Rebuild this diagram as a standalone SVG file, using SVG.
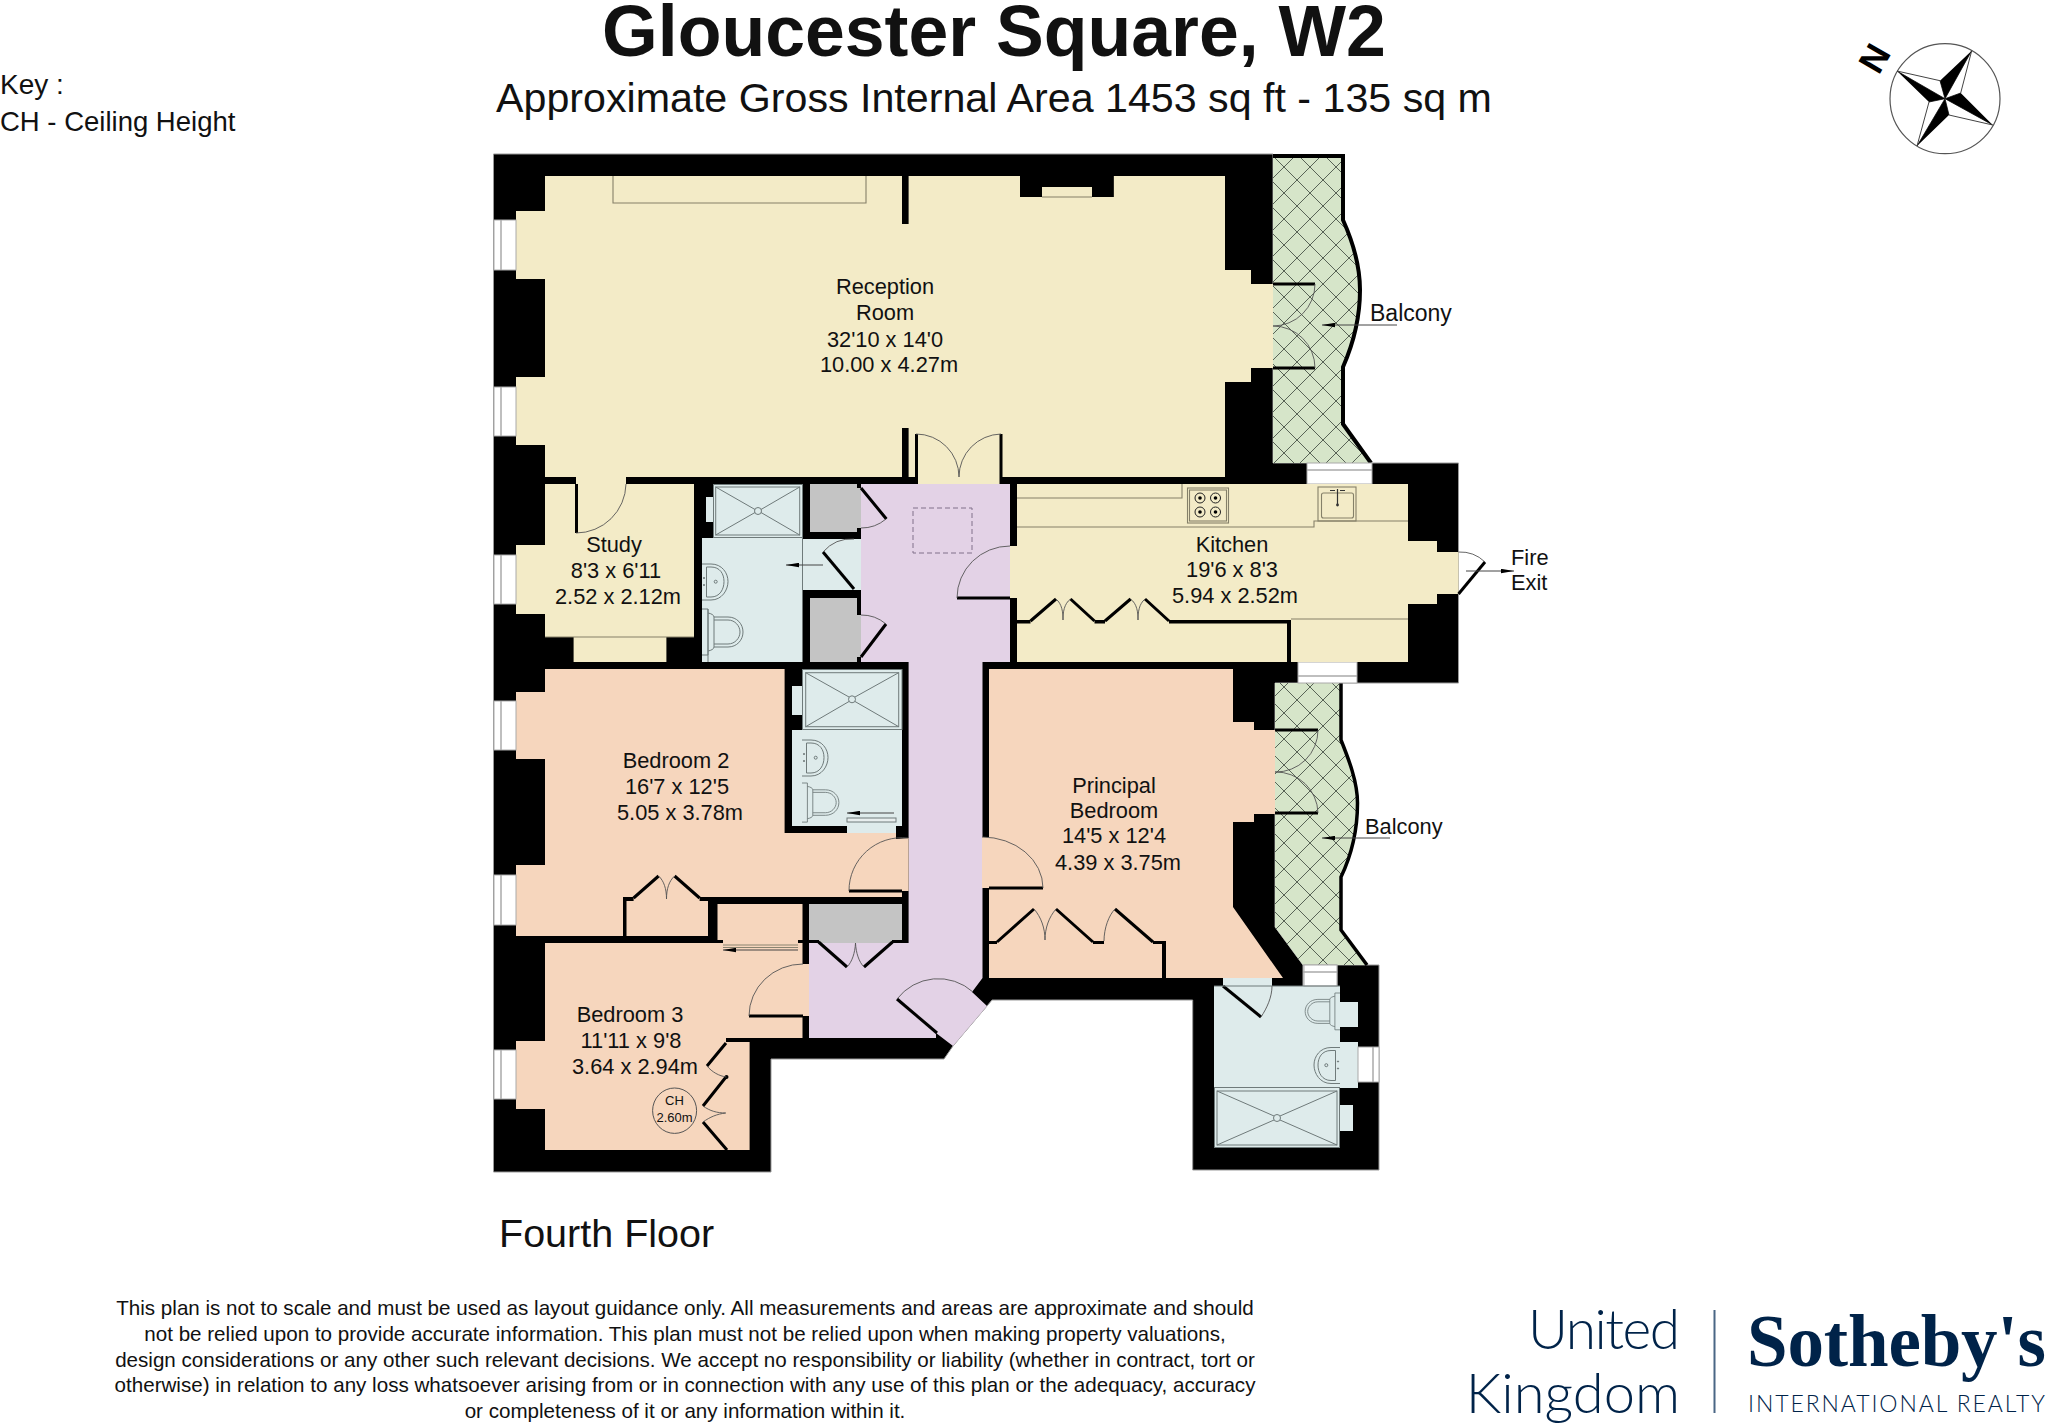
<svg xmlns="http://www.w3.org/2000/svg" width="2048" height="1425" viewBox="0 0 2048 1425">
<style>
text{font-family:"Liberation Sans",Arial,sans-serif;fill:#111}
.r{font-size:21.8px;text-anchor:middle}
.l{font-size:21.8px}
.d{font-size:20.6px;text-anchor:middle}
.cream{fill:#f3ebc7}
.peach{fill:#f6d6bd}
.hall{fill:#e3d2e6}
.bath{fill:#deebeb}
.grey{fill:#c4c4c4}
.bk{fill:#000}
.leaf{stroke:#000;stroke-width:3;fill:none}
.arc{stroke:#555;stroke-width:.9;fill:none}
.ln{stroke:#858069;stroke-width:1.1;fill:none}
.fx{stroke:#6f7a7a;stroke-width:1;fill:none}
.win{fill:#fff;stroke:#aaa;stroke-width:1}
.wl{stroke:#aaa;stroke-width:1.5;fill:none}
.lead{stroke:#444;stroke-width:1;fill:none}
</style>
<defs>
<pattern id="hatch" width="26" height="26" patternUnits="userSpaceOnUse" x="1297" y="180">
<rect width="26" height="26" fill="#d6e5c9"/>
<path d="M0,0L26,26M0,26L26,0" stroke="#4a554a" stroke-width=".9"/>
</pattern>
<marker id="ar" viewBox="0 0 13 5" refX="13" refY="2.5" markerWidth="13" markerHeight="5" markerUnits="userSpaceOnUse" orient="auto"><path d="M0,0.3L13,2.5L0,4.7Z" fill="#000"/></marker>
<g id="basin" class="fx">
<path d="M0,0H9C20,0 26,9 26,17.5C26,26 20,36 9,36H0"/>
<path d="M4.5,3H9C18,3 22,10 22,17.5C22,25 18,33 9,33H4.5Z"/>
<circle cx="13.7" cy="17.7" r="1.5"/>
<circle cx="2" cy="14" r=".6" fill="#555"/><circle cx="2" cy="21" r=".6" fill="#555"/>
</g>
<g id="wc" class="fx">
<path d="M0,0H6V46H0"/>
<path d="M6,4C9,4.5 12,6 12,8V38C12,40 9,41.5 6,42"/>
<path d="M12,8H26C35,8 41,15 41,23C41,31 35,38 26,38H12"/>
<path d="M12,11H26C33,11 38,17 38,23C38,29 33,35 26,35H12"/>
</g>
</defs>
<rect width="2048" height="1425" fill="#fff"/>

<g id="walls">
<path class="bk" stroke="#999" stroke-width="1" d="M493.5,154H1273V463H1458.5V683H1275V927L1303,965H1379V1170H1192.7V1000H992L987,1006L953,1046L944,1059H771V1172H493.5Z"/>
</g>

<g id="balcony-upper">
<path fill="url(#hatch)" d="M1273,156H1343V220C1352,240 1360,265 1360,290C1360,318 1354,342 1343,367V424L1370,463H1273Z"/>
<rect x="1273" y="154" width="72" height="4" class="bk"/>
<path fill="none" stroke="#000" stroke-width="4" d="M1343,154V220C1352,240 1360,265 1360,290C1360,318 1354,342 1343,367V424L1371,463"/>
<path class="leaf" d="M1273,284H1315M1273,368H1315"/>
<path class="arc" d="M1315,284A42,42 0 0 1 1273,326M1315,368A42,42 0 0 0 1273,326"/>
<rect class="win" x="1307" y="463" width="65" height="21"/><path class="wl" d="M1307,470H1372"/>
</g>

<g id="balcony-lower">
<path fill="url(#hatch)" d="M1275,683H1341V740C1349,760 1357.5,782 1357.5,803C1357.5,830 1351,856 1341,877V930L1366,965H1303L1275,927Z"/>
<path fill="none" stroke="#000" stroke-width="3.5" d="M1341,683V740C1349,760 1357.5,782 1357.5,803C1357.5,830 1351,856 1341,877V930L1367,965"/>
<path class="leaf" d="M1275,730H1318M1275,813H1318"/>
<path class="arc" d="M1318,730A42,42 0 0 1 1275,772M1318,813A42,42 0 0 0 1275,772"/>
<rect class="win" x="1303" y="965" width="34" height="21"/><path class="wl" d="M1303,972H1337"/>
<rect class="win" x="1298" y="662" width="59" height="21"/><path class="wl" d="M1298,676H1357"/>
</g>

<g id="reception">
<path class="cream" d="M545,176H1020V197H1113.6V176H1225V270H1251V284H1273V368H1251V382H1225V477H1001V484H916V477H626V484H576V477H545V445H516V377H545V279H516V211H545Z"/>
<rect class="bk" x="902" y="176" width="6.6" height="48"/>
<rect class="bk" x="902" y="428" width="6.6" height="49"/>
<rect class="bk" x="1020" y="176" width="22" height="21"/><rect class="bk" x="1092" y="176" width="21.6" height="21"/>
<rect class="cream" x="1042" y="187" width="50" height="10"/><path class="ln" d="M1042,197H1092"/>
<path class="ln" d="M613,176V203H866V176"/>
<rect class="win" x="494" y="220" width="22" height="50"/><path class="wl" d="M501,220V270"/>
<rect class="win" x="494" y="387" width="22" height="49"/><path class="wl" d="M501,387V436"/>
<path class="leaf" d="M916.5,434V484M1001,434V484"/>
<path class="arc" d="M916,434A43,43 0 0 1 959,477M1001,434A43,43 0 0 0 959,477"/>
</g>

<g id="study">
<path class="cream" d="M545,484H694V637H666.4V662H573.6V637H545V614H516V545H545Z"/>
<path class="ln" d="M545,637H694"/>
<path class="leaf" d="M576.5,484V533"/>
<path class="arc" d="M576,533A50,50 0 0 0 626,484"/>
<rect class="win" x="494" y="555" width="22" height="49"/><path class="wl" d="M501,555V604"/>
</g>

<g id="bath-central">
<rect class="bath" x="713" y="484" width="89.5" height="54"/>
<rect class="bath" x="706" y="497" width="7" height="25"/>
<rect class="bath" x="702" y="538" width="100.5" height="124"/>
<rect class="bath" x="802.5" y="539" width="58.5" height="51"/>
<g class="fx"><rect x="713.5" y="484.5" width="89" height="53"/><rect x="715.7" y="487" width="84" height="48"/><path d="M715.7,487L755,509.5M799.7,487L761,509.5M715.7,535L755,512.5M799.7,535L761,512.5"/><circle cx="758" cy="511" r="3.5"/><path d="M802.5,539V590"/><path d="M708,609V662"/></g>
<use href="#basin" x="702" y="564"/>
<use href="#wc" x="702" y="609"/>
<path class="leaf" d="M823,552L854,589"/>
<path class="arc" d="M823,552A38,38 0 0 1 854,539"/>
</g>

<g id="cupboards-central">
<rect class="grey" x="810" y="484" width="51" height="48"/>
<rect class="grey" x="810" y="598" width="51" height="64"/>
<rect class="bk" x="857" y="484" width="4" height="4"/><rect class="bk" x="857" y="528" width="4" height="4"/>
<rect class="bk" x="857" y="598" width="4" height="17"/><rect class="bk" x="857" y="657" width="4" height="5"/>
</g>

<g id="hall">
<path class="hall" d="M861,484H1010V662H982.5V978L972,992L987,1006L953,1046L936,1033V1038H809V943H908.6V662H861Z"/>
<path class="leaf" d="M861,488L886.4,519M861,657L886,624"/>
<path class="arc" d="M886,519A38,38 0 0 1 861,528M886,624A38,38 0 0 0 861,615"/>
<path fill="none" stroke="#80708a" stroke-width="1" stroke-dasharray="5 3" d="M913,508H972V553H913Z"/>
<path class="leaf" d="M897,999L937,1033"/>
<path class="arc" d="M897,999A52,52 0 0 1 973,992"/>
</g>

<g id="kitchen">
<path class="cream" d="M1017,484H1408V541H1437V552H1458.5V594H1437V604H1408V662H1017Z"/>
<rect class="cream" x="1010" y="546" width="7" height="52"/>
<path class="ln" d="M1017,498H1182V484M1017,527H1314V521H1408M1291,619H1408"/>
<g class="ln" stroke-width="1"><rect x="1187.5" y="488" width="41" height="35"/><rect x="1189.5" y="490" width="37" height="31"/></g>
<g fill="none" stroke="#222" stroke-width="1"><circle cx="1200" cy="498" r="5"/><circle cx="1215.5" cy="498" r="5"/><circle cx="1200" cy="512" r="5"/><circle cx="1215.5" cy="512" r="5"/></g>
<g class="bk"><circle cx="1200" cy="498" r="1.8"/><circle cx="1215.5" cy="498" r="1.8"/><circle cx="1200" cy="512" r="1.8"/><circle cx="1215.5" cy="512" r="1.8"/></g>
<rect class="ln" x="1318" y="487" width="38" height="34"/>
<rect class="ln" x="1321.5" y="493" width="32" height="25" rx="2"/>
<path stroke="#333" stroke-width="1.2" fill="none" d="M1337.5,489V505M1330,490.5H1335M1340,490.5H1345"/>
<circle cx="1337.5" cy="505" r="1.4" fill="#333"/>
<path class="leaf" d="M1010,598H957"/>
<path class="arc" d="M957,598A53,52 0 0 1 1010,546"/>
<rect class="bk" x="1017" y="620" width="13.5" height="3.5"/><rect class="bk" x="1094.5" y="620" width="10.5" height="3.5"/><rect class="bk" x="1169" y="620" width="122" height="3.5"/><rect class="bk" x="1287" y="620" width="4" height="42"/>
<path class="leaf" d="M1030.5,621L1056,599M1070.5,599L1094.5,621M1105,621L1130.6,599M1145,599L1169,621"/>
<path class="arc" d="M1056,599C1062,604 1063,612 1063,620C1063,612 1064,604 1070.5,599M1130.6,599C1137,604 1138,612 1138,620C1138,612 1139,604 1145,599"/>
<path class="leaf" d="M1458.5,594L1485,562"/>
<path class="arc" d="M1458.5,552A36,36 0 0 1 1485,562"/>
</g>

<g id="bedroom-2">
<path class="peach" d="M545,669H784.6V833H896V839L908.6,838V891H902V897H708V936H516V865H545V759H516V692H545Z"/>
<rect class="win" x="494" y="701" width="22" height="49"/><path class="wl" d="M501,701V750"/>
<rect class="win" x="494" y="875" width="22" height="50"/><path class="wl" d="M501,875V925"/>
<path class="leaf" d="M849,891H902"/>
<path class="arc" d="M849,891A53,53 0 0 1 908,838"/>
<rect class="bk" x="623" y="897" width="3.5" height="39"/><rect class="bk" x="623" y="897" width="10.6" height="4"/><rect class="bk" x="699.6" y="897" width="10" height="4"/>
<path class="leaf" d="M633.6,898L658.6,876M674.6,876L699.6,898"/>
<path class="arc" d="M658.6,876C664,881 666.5,889 666.5,899C666.5,889 669,881 674.6,876"/>
</g>

<g id="ensuite-2">
<rect class="bath" x="802.5" y="669" width="99.5" height="61"/>
<rect class="bath" x="792" y="686" width="10.5" height="29"/>
<rect class="bath" x="792" y="730" width="110" height="96"/>
<rect class="bath" x="847" y="826" width="49" height="7"/>
<g class="fx"><rect x="802.5" y="669.5" width="99.5" height="60"/><rect x="805.7" y="672.7" width="93" height="54"/><path d="M805.7,672.7L849,697M898.7,672.7L855,697M805.7,726.7L849,701.5M898.7,726.7L855,701.5"/><circle cx="852" cy="699.3" r="3.5"/></g>
<use href="#basin" x="802" y="740"/>
<use href="#wc" transform="translate(802,783) scale(.9,.85)"/>
<rect x="847" y="818" width="49" height="4" fill="#e8eeee" stroke="#6f7a7a" stroke-width="1"/>
</g>

<g id="closet-bed3">
<rect class="peach" x="717.5" y="904" width="85" height="36"/>
<rect class="peach" x="723" y="940" width="75" height="5"/>
</g>

<g id="grey-closet">
<rect class="grey" x="809" y="904" width="93" height="39"/>
<rect class="bk" x="809" y="940" width="10" height="3"/><rect class="bk" x="892" y="940" width="16" height="3"/>
<path class="leaf" d="M818.6,942L847,967M892.5,942L864,967"/>
<path class="arc" d="M847,967C852,962 855,953 855.5,943C856,953 859,962 864,967"/>
</g>

<g id="bedroom-3">
<path class="peach" d="M545,943H802.5V1038H726V1042H749.6V1150H545V1109H516V1041H545Z"/>
<rect class="peach" x="802" y="964" width="7" height="52"/>
<rect class="win" x="494" y="1050" width="22" height="49"/><path class="wl" d="M501,1050V1099"/>
<path d="M723,945H798M723,947.5H798" stroke="#8a8470" stroke-width="1.2" fill="none"/>
<path class="leaf" d="M749,1016H803"/>
<path class="arc" d="M749,1016A54,52 0 0 1 803,964"/>
<path class="leaf" d="M726,1043L707,1066M726,1077L703,1106M703,1122L727,1150"/>
<circle cx="726.5" cy="1077" r="2" class="bk"/>
<path class="arc" d="M707,1066C712,1072 719,1076 726.4,1077M703,1106C710,1111 717,1113 725.7,1113C717,1114 710,1117 703,1122"/>
<ellipse cx="674.6" cy="1110.7" rx="22" ry="22.7" fill="none" stroke="#555" stroke-width="1"/>
</g>

<g id="principal-bedroom">
<path class="peach" d="M989,669H1233V722H1254V730H1275V814H1254V822H1233V907L1283,978H989Z"/>
<rect class="peach" x="982" y="837" width="7" height="51"/>
<path class="leaf" d="M989,888H1043"/>
<path class="arc" d="M1043,888A61,51 0 0 0 982,837"/>
<rect class="bk" x="989" y="941" width="8" height="3"/><rect class="bk" x="1093" y="941" width="11" height="3"/><rect class="bk" x="1153" y="941" width="13" height="3"/><rect class="bk" x="1162" y="941" width="4" height="37"/>
<path class="leaf" d="M997,942L1034,909M1056,909L1093,942M1115,909L1153,942"/>
<path class="arc" d="M1034,909C1041,917 1045,928 1045,940C1045,928 1049,917 1056,909M1115,909C1109,915 1104,928 1104,941"/>
</g>

<g id="bath-principal">
<rect class="bath" x="1214" y="986" width="126" height="162"/>
<rect class="bath" x="1223" y="978" width="49" height="8"/>
<rect class="bath" x="1340" y="1002" width="18" height="25"/>
<rect class="bath" x="1340" y="1042" width="18" height="46"/>
<rect class="bath" x="1340" y="1105" width="13" height="26"/>
<rect class="win" x="1358" y="1047" width="21" height="35"/><path class="wl" d="M1373,1047V1082"/>
<rect class="win" x="1304" y="965" width="33" height="21"/><path class="wl" d="M1304,972H1337"/>
<path class="leaf" d="M1223,986L1261,1017"/>
<path class="arc" d="M1261,1017C1267,1008 1272,997 1272,986"/>
<g class="fx"><path d="M1214,1087.5H1340M1214,986H1340"/><rect x="1217" y="1091" width="120" height="54"/><rect x="1214.5" y="1087.5" width="125" height="60"/><path d="M1217,1091L1274,1116M1337,1091L1280,1116M1217,1145L1274,1120M1337,1145L1280,1120"/><circle cx="1277" cy="1118" r="3.5"/></g>
<use href="#basin" transform="translate(1340,1047.5) scale(-1,1)"/>
<use href="#wc" transform="translate(1340,993) scale(-.85,.8)"/>
</g>

<g id="leaders">
<path class="lead" d="M1397,325H1322" marker-end="url(#ar)"/>
<path class="lead" d="M1390,838H1322" marker-end="url(#ar)"/>
<path class="lead" d="M1466,571H1514" marker-end="url(#ar)"/>
<path class="lead" d="M823,565H786" marker-end="url(#ar)"/>
<path class="lead" d="M894,813H847" marker-end="url(#ar)"/>
<path class="lead" d="M798,950H723" marker-end="url(#ar)"/>
</g>

<g id="labels">
<text class="r" x="885" y="294">Reception</text>
<text class="r" x="885" y="320">Room</text>
<text class="r" x="885" y="347">32'10 x 14'0</text>
<text class="r" x="889" y="372">10.00 x 4.27m</text>
<text class="r" x="614" y="552">Study</text>
<text class="r" x="616" y="578">8'3 x 6'11</text>
<text class="r" x="618" y="604">2.52 x 2.12m</text>
<text class="r" x="1232" y="552">Kitchen</text>
<text class="r" x="1232" y="577">19'6 x 8'3</text>
<text class="r" x="1235" y="603">5.94 x 2.52m</text>
<text class="r" x="676" y="768">Bedroom 2</text>
<text class="r" x="677" y="794">16'7 x 12'5</text>
<text class="r" x="680" y="820">5.05 x 3.78m</text>
<text class="r" x="1114" y="793">Principal</text>
<text class="r" x="1114" y="818">Bedroom</text>
<text class="r" x="1114" y="843">14'5 x 12'4</text>
<text class="r" x="1118" y="870">4.39 x 3.75m</text>
<text class="r" x="630" y="1022">Bedroom 3</text>
<text class="r" x="631" y="1048">11'11 x 9'8</text>
<text class="r" x="635" y="1074">3.64 x 2.94m</text>
<text x="674.5" y="1105" text-anchor="middle" font-size="13">CH</text>
<text x="674.5" y="1122" text-anchor="middle" font-size="13">2.60m</text>
<text x="1370" y="321" font-size="23">Balcony</text>
<text class="l" x="1365" y="834">Balcony</text>
<text class="l" x="1511" y="565">Fire</text>
<text class="l" x="1511" y="590">Exit</text>
</g>

<g id="header">
<text x="994" y="56" text-anchor="middle" font-size="71.6" font-weight="700">Gloucester Square, W2</text>
<text x="994" y="112" text-anchor="middle" font-size="41.2">Approximate Gross Internal Area 1453 sq ft - 135 sq m</text>
<text x="0" y="94" font-size="28">Key :</text>
<text x="0" y="131" font-size="27.5">CH - Ceiling Height</text>
<text x="499" y="1247" font-size="39.5">Fourth Floor</text>
</g>

<g id="compass">
<circle cx="1945" cy="98.7" r="55" fill="none" stroke="#555" stroke-width="1.2"/>
<path fill="#fff" stroke="#444" stroke-width="1" d="M1971.7,50.7L1960.7,93L1945,98.7ZM1897,71L1940,80.7L1945,98.7ZM1992.7,125L1949,115L1945,98.7ZM1917,146L1929,102L1945,98.7Z"/>
<path fill="#000" d="M1971.7,50.7L1940,80.7L1945,98.7ZM1897,71L1929,102L1945,98.7ZM1992.7,125L1960.7,93L1945,98.7ZM1917,146L1949,115L1945,98.7Z"/>
<text transform="translate(1874,58) rotate(-60)" text-anchor="middle" y="13" font-size="36" font-weight="700" style="fill:#000">N</text>
</g>

<g id="disclaimer">
<text class="d" x="685" y="1315">This plan is not to scale and must be used as layout guidance only. All measurements and areas are approximate and should</text>
<text class="d" x="685" y="1341">not be relied upon to provide accurate information. This plan must not be relied upon when making property valuations,</text>
<text class="d" x="685" y="1367">design considerations or any other such relevant decisions. We accept no responsibility or liability (whether in contract, tort or</text>
<text class="d" x="685" y="1392">otherwise) in relation to any loss whatsoever arising from or in connection with any use of this plan or the adequacy, accuracy</text>
<text class="d" x="685" y="1418">or completeness of it or any information within it.</text>
</g>

<g id="logo">
<text x="1680" y="1349" text-anchor="end" font-size="55" font-weight="300" textLength="152" style="font-family:Lato,'Liberation Sans',sans-serif;fill:#002349">United</text>
<text x="1680" y="1413" text-anchor="end" font-size="56" font-weight="300" style="font-family:Lato,'Liberation Sans',sans-serif;fill:#002349">Kingdom</text>
<rect x="1713.5" y="1310" width="2" height="103" fill="#4a6785"/>
<text x="1747" y="1366" font-size="73" font-weight="700" textLength="299" style="font-family:'Liberation Serif',serif;fill:#002349">Sotheby's</text>
<text x="1748" y="1412" font-size="23" font-weight="300" textLength="297" style="font-family:Lato,'Liberation Sans',sans-serif;fill:#002349">INTERNATIONAL REALTY</text>
</g>
</svg>
